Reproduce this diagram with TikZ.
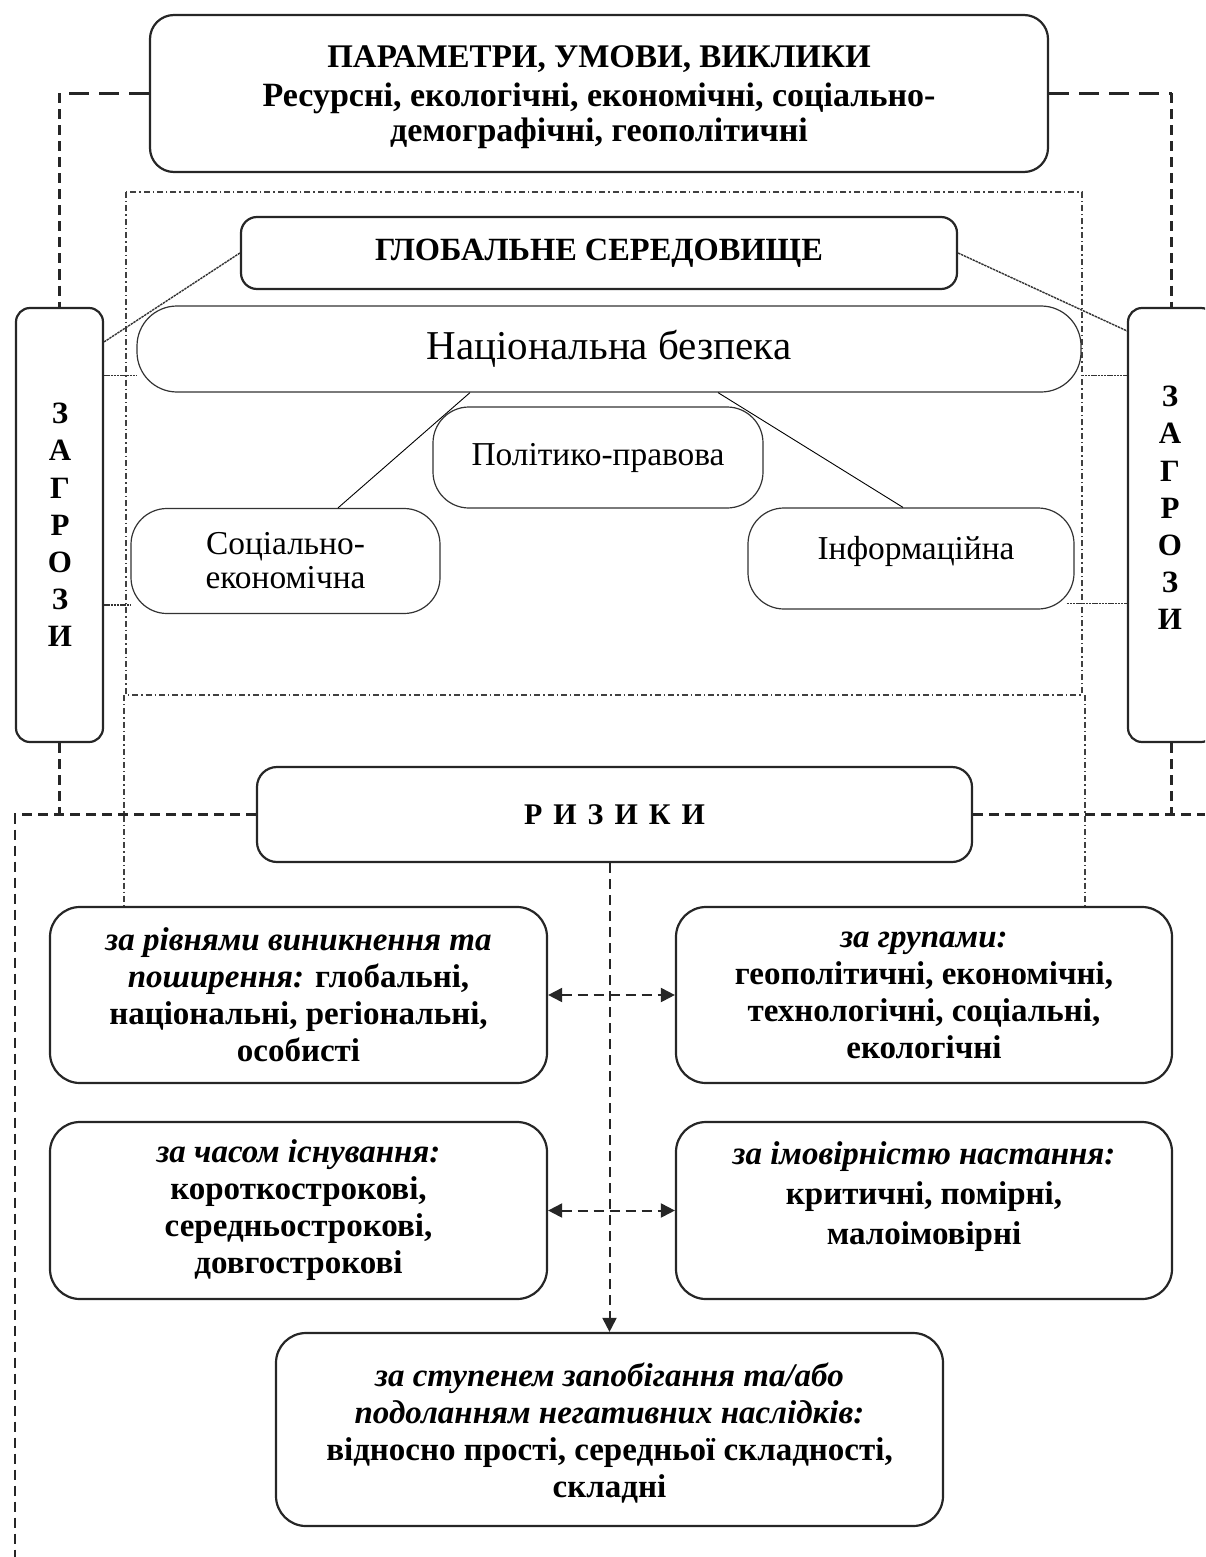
\documentclass[tikz,border=0pt]{standalone}
\usepackage{fontspec}
\setmainfont{Liberation Serif}
\usetikzlibrary{arrows.meta,calc}
\newcommand\myfs[2]{\fontsize{#1pt}{#2pt}\selectfont}
\newcommand\itpart[1]{{\itshape #1}}
\tikzset{
  mainbox/.style={draw=black!85, line width=1.1pt, rounded corners=12pt, align=center, inner sep=2pt},
  riskbox/.style={draw=black!85, line width=1.1pt, rounded corners=15pt, align=center, inner sep=2pt,
     font=\myfs{16.5}{18.5}\bfseries},
  softbox/.style={draw=black!80, line width=0.6pt, rounded corners=18pt, align=center, inner sep=2pt},
  threatbox/.style={draw=black!85, line width=1.1pt, rounded corners=7pt, minimum width=43.5pt, minimum height=217pt},
  dashln/.style={draw=black!85, line width=1.1pt, dash pattern=on 5pt off 3pt},
  dashlong/.style={draw=black!85, line width=1.1pt, dash pattern=on 10pt off 5pt},
  dashdotln/.style={draw=black!75, line width=0.6pt, dash pattern=on 3pt off 1.5pt on 0.7pt off 1.5pt},
  thinln/.style={draw=black, line width=0.45pt},
  fineln/.style={draw=black!80, line width=0.7pt, dash pattern=on 1.2pt off 0.4pt},
  tipone/.style={-{Triangle[length=7pt,width=7pt]}},
  tiptwo/.style={{Triangle[length=7pt,width=7pt]}-{Triangle[length=7pt,width=7pt]}},
  lettertext/.style={align=center, font=\myfs{15.5}{18.6}\bfseries},
}
\begin{document}
\begin{tikzpicture}[x=0.5pt, y=-0.5pt]
\useasboundingbox (0,0) rectangle (1205,1557);
\clip (0,0) rectangle (1205,1557);

% dash-dot frame (global environment)
\draw[dashdotln] (126,192) rectangle (1082,695);

% top box
\node[mainbox, minimum width=449pt, minimum height=78.5pt] (top) at (599,93.5) {};
\node[align=center, font=\myfs{17}{17.5}\bfseries] (topt) at (599,97)
  {{\myfs{16.5}{19}ПАРАМЕТРИ, УМОВИ, ВИКЛИКИ}\\[2pt]
   Ресурсні, екологічні, економічні, соціально-\\демографічні, геополітичні};

% global environment
\node[mainbox, rounded corners=8pt, minimum width=358pt, minimum height=36pt,
      font=\myfs{16.2}{18}\bfseries] (glob) at (599,253) {ГЛОБАЛЬНЕ СЕРЕДОВИЩЕ};

% national security
\node[softbox, rounded corners=20pt, minimum width=472pt, minimum height=43pt,
      font=\myfs{20.5}{23}] (nat) at (609,349) {Національна безпека};

\node[softbox, minimum width=165pt, minimum height=50.5pt, font=\myfs{16.7}{18}] (pol) at (598,457.5) {Політико-правова};
\node[softbox, minimum width=154.5pt, minimum height=52.5pt, font=\myfs{16.7}{17}] (soc) at (285.5,561) {Соціально-\\економічна};
\node[softbox, minimum width=163pt, minimum height=50.5pt] (inf) at (911,558.5) {};
\node[font=\myfs{16.7}{18}] (inft) at (916,551) {Інформаційна};

% threats
\node[threatbox] (lz) at (59.5,525) {};
\node[lettertext] (lzt) at (60,525) {З\\А\\Г\\Р\\О\\З\\И};
\node[threatbox] (rz) at (1171.5,525) {};
\node[lettertext] (rzt) at (1170,508) {З\\А\\Г\\Р\\О\\З\\И};

% risks
\node[mainbox, rounded corners=10pt, minimum width=357.5pt, minimum height=47.5pt,
      font=\myfs{15}{18}\bfseries] (riz) at (614.5,814.5)
  {Р\hspace{5.5pt}И\hspace{5.5pt}З\hspace{5.5pt}И\hspace{5.5pt}К\hspace{5.5pt}И};

\node[riskbox, minimum width=248.5pt, minimum height=88pt] (b1) at (298.5,995)
  {\itpart{за рівнями виникнення та}\\\itpart{поширення:} глобальні,\\національні, регіональні,\\особисті};
\node[riskbox, minimum width=248pt, minimum height=88pt] (b2) at (924,995)
  {\itpart{за групами:}\\геополітичні, економічні,\\технологічні, соціальні,\\екологічні};
\node[riskbox, minimum width=248.5pt, minimum height=88.5pt] (b3) at (298.5,1210.5)
  {\itpart{за часом існування:}\\короткострокові,\\середньострокові,\\довгострокові};
\node[riskbox, minimum width=248pt, minimum height=88.5pt] (b4) at (924,1210.5) {};
\node[align=center, font=\myfs{16.5}{20}\bfseries] (b4t) at (924,1197)
  {\itpart{за імовірністю настання:}\\критичні, помірні,\\малоімовірні};
\node[riskbox, minimum width=333.5pt, minimum height=96.5pt] (b5) at (609.5,1429.5) {};
\node[align=center, font=\myfs{16.5}{18.5}\bfseries] (b5t) at (609.5,1433)
  {\itpart{за ступенем запобігання та/або}\\\itpart{подоланням негативних наслідків:}\\відносно прості, середньої складності,\\складні};

% dash-dot verticals down to the risk boxes
\coordinate (ddl) at (124,695);
\coordinate (ddr) at (1085,695);
\draw[dashdotln] (ddl) -- (ddl |- b1.north);
\draw[dashdotln] (ddr) -- (ddr |- b2.north);

% dashed links from the top box to threats
\coordinate (ltc) at (top.west -| lz.north);
\coordinate (rtc) at (top.east -| rz.north);
\draw[dashlong] (top.west) -- (ltc);
\draw[dashln] (ltc) -- (lz.north);
\draw[dashlong] (top.east) -- (rtc);
\draw[dashln] (rtc) -- (rz.north);

% global environment to threats
\draw[fineln] (glob.west) -- ($(lz.north east)+(0,35)$);
\draw[fineln] (glob.east) -- ($(rz.north west)+(0,24)$);

% threats to national security level
\coordinate (natl) at ($(nat.south west)+(0,-17)$);
\coordinate (natr) at ($(nat.south east)+(0,-17)$);
\draw[fineln] (natl -| lz.east) -- (natl);
\draw[fineln] (natr) -- (natr -| rz.west);
\coordinate (socl) at ($(soc.south west)+(0,-9)$);
\draw[fineln] (socl -| lz.east) -- (socl);
\coordinate (infr) at ($(inf.south east)+(-8,-6)$);
\draw[fineln] (infr) -- (infr -| rz.west);

% national security to its components
\draw[thinln] ($(nat.south)+(-139,0)$) -- ($(soc.north)+(52.5,0)$);
\draw[thinln] ($(pol.north)+(-7,0)$) -- ($(pol.north)+(-7,0)$ |- nat.south);
\draw[thinln] ($(nat.south)+(109,0)$) -- ($(inf.north)+(-8,0)$);

% risks dashed frame
\coordinate (lcorner) at (15,814.5);
\coordinate (lend) at (15,1557);
\coordinate (rend) at (1205,814.5);
\draw[dashln] (lz.south) -- (lz.south |- riz.west);
\draw[dashln] (rz.south) -- (rz.south |- riz.east);
\draw[dashln] (riz.west) -- (lcorner) -- (lend);
\draw[dashln] (riz.east) -- (rend);

% risk arrows
\draw[dashln, line width=1pt, tipone] (riz.south -| b5.north) -- (b5.north);
\draw[dashln, line width=1pt, tiptwo] (b1.east) -- (b2.west);
\draw[dashln, line width=1pt, tiptwo] (b3.east) -- (b4.west);
\end{tikzpicture}
\end{document}
